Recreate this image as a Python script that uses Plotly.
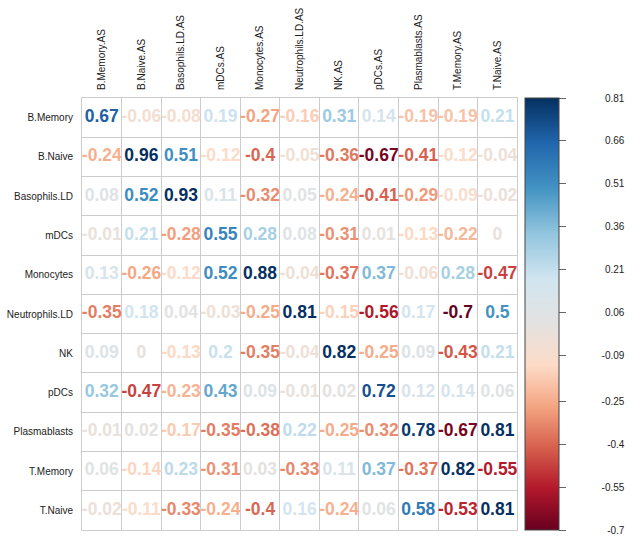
import plotly.graph_objects as go
from plotly.colors import sample_colorscale

# Correlation matrix: rows are cell types, columns the matching ".AS" scores
row_labels = ["B.Memory", "B.Naive", "Basophils.LD", "mDCs", "Monocytes",
              "Neutrophils.LD", "NK", "pDCs", "Plasmablasts", "T.Memory", "T.Naive"]
col_labels = ["B.Memory.AS", "B.Naive.AS", "Basophils.LD.AS", "mDCs.AS", "Monocytes.AS",
              "Neutrophils.LD.AS", "NK.AS", "pDCs.AS", "Plasmablasts.AS", "T.Memory.AS", "T.Naive.AS"]

r_b_memory = [0.67, -0.06, -0.08, 0.19, -0.27, -0.16, 0.31, 0.14, -0.19, -0.19, 0.21]
r_b_naive = [-0.24, 0.96, 0.51, -0.12, -0.4, -0.05, -0.36, -0.67, -0.41, -0.12, -0.04]
r_basophils = [0.08, 0.52, 0.93, 0.11, -0.32, 0.05, -0.24, -0.41, -0.29, -0.09, -0.02]
r_mdcs = [-0.01, 0.21, -0.28, 0.55, 0.28, 0.08, -0.31, 0.01, -0.13, -0.22, 0]
r_monocytes = [0.13, -0.26, -0.12, 0.52, 0.88, -0.04, -0.37, 0.37, -0.06, 0.28, -0.47]
r_neutrophils = [-0.35, 0.18, 0.04, -0.03, -0.25, 0.81, -0.15, -0.56, 0.17, -0.7, 0.5]
r_nk = [0.09, 0, -0.13, 0.2, -0.35, -0.04, 0.82, -0.25, 0.09, -0.43, 0.21]
r_pdcs = [0.32, -0.47, -0.23, 0.43, 0.09, -0.01, 0.02, 0.72, 0.12, 0.14, 0.06]
r_plasmablasts = [-0.01, 0.02, -0.17, -0.35, -0.38, 0.22, -0.25, -0.32, 0.78, -0.67, 0.81]
r_t_memory = [0.06, -0.14, 0.23, -0.31, 0.03, -0.33, 0.11, 0.37, -0.37, 0.82, -0.55]
r_t_naive = [-0.02, -0.11, -0.33, -0.24, -0.4, 0.16, -0.24, 0.06, 0.58, -0.53, 0.81]

matrix = [r_b_memory, r_b_naive, r_basophils, r_mdcs, r_monocytes, r_neutrophils,
          r_nk, r_pdcs, r_plasmablasts, r_t_memory, r_t_naive]

# Colour legend limits, neutral point and labels
c_min, c_max, c_mid = -0.7, 0.81, 0.02
legend_ticks = [0.81, 0.66, 0.51, 0.36, 0.21, 0.06, -0.09, -0.25, -0.4, -0.55, -0.7]

reds = ["#67001F", "#B2182B", "#D6604D", "#F4A582", "#FDDBC7"]
neutral = "#E4E2E0"
blues = ["#D1E5F0", "#92C5DE", "#4393C3", "#2166AC", "#053061"]

m = (c_mid - c_min) / (c_max - c_min)
colorscale = [[m * i / len(reds), c] for i, c in enumerate(reds)]
colorscale.append([m, neutral])
colorscale += [[m + (1 - m) * (i + 1) / len(blues), c] for i, c in enumerate(blues)]

xs, ys, vals, texts = [], [], [], []
for i, row in enumerate(matrix):
    for j, v in enumerate(row):
        xs.append(j)
        ys.append(i)
        vals.append(v)
        texts.append(f"{v:g}")

fracs = [min(1.0, max(0.0, (v - c_min) / (c_max - c_min))) for v in vals]
text_colors = sample_colorscale(colorscale, fracs)

fig = go.Figure()

fig.add_trace(go.Scatter(
    x=xs, y=ys, mode="text", text=texts,
    textposition="middle center",
    textfont=dict(family="Liberation Sans, Arial, sans-serif", size=17.5,
                  color=text_colors, weight="bold"),
    hoverinfo="skip", showlegend=False,
))

# Invisible carrier for the colour bar, on the legend value axis
fig.add_trace(go.Scatter(
    x=[0, 0], y=[c_min, c_max], yaxis="y2", mode="markers",
    marker=dict(size=0.1, opacity=0, color=[c_min, c_max], colorscale=colorscale,
                cmin=c_min, cmax=c_max, showscale=True,
                colorbar=dict(
                    x=448 / 550, xanchor="left", xpad=0,
                    y=0.5, yanchor="middle", ypad=0,
                    len=1, lenmode="fraction", thickness=34,
                    outlinewidth=1, outlinecolor="#444444",
                    tickmode="array", tickvals=legend_ticks,
                    ticks="outside", ticklen=7, tickcolor="#666666",
                    showticklabels=False,
                )),
    hoverinfo="skip", showlegend=False,
))

grid_color = "#CCCCCC"
label_font = dict(family="Liberation Sans, Arial, sans-serif", size=10, color="#222222")

fig.update_layout(
    width=633, height=543,
    margin=dict(l=76, r=7, t=96, b=7),
    paper_bgcolor="white", plot_bgcolor="white",
    xaxis=dict(
        domain=[0, 440 / 550], range=[-0.5, 10.5], side="top",
        tickmode="array", tickvals=list(range(len(col_labels))), ticktext=col_labels,
        tickangle=-90, tickfont=label_font, ticks="", ticklabelstandoff=5,
        showgrid=False, zeroline=False,
        showline=True, mirror=True, linecolor=grid_color, linewidth=1,
        minor=dict(tick0=0.5, dtick=1, showgrid=True, gridcolor=grid_color, gridwidth=1),
        fixedrange=True,
    ),
    yaxis=dict(
        domain=[0, 1], range=[10.5, -0.5],
        tickmode="array", tickvals=list(range(len(row_labels))), ticktext=row_labels,
        tickfont=label_font, ticks="", ticklabelstandoff=6,
        showgrid=False, zeroline=False,
        showline=True, mirror=True, linecolor=grid_color, linewidth=1,
        minor=dict(tick0=0.5, dtick=1, showgrid=True, gridcolor=grid_color, gridwidth=1),
        fixedrange=True,
    ),
    yaxis2=dict(
        domain=[0, 1], range=[c_min, c_max], anchor="free", position=0.997,
        side="left", overlaying="y",
        tickmode="array", tickvals=legend_ticks, ticktext=[f"{t:g}" for t in legend_ticks],
        tickfont=label_font, ticks="", showline=False, showgrid=False, zeroline=False,
        fixedrange=True,
    ),
)

fig.write_html("out.html")
